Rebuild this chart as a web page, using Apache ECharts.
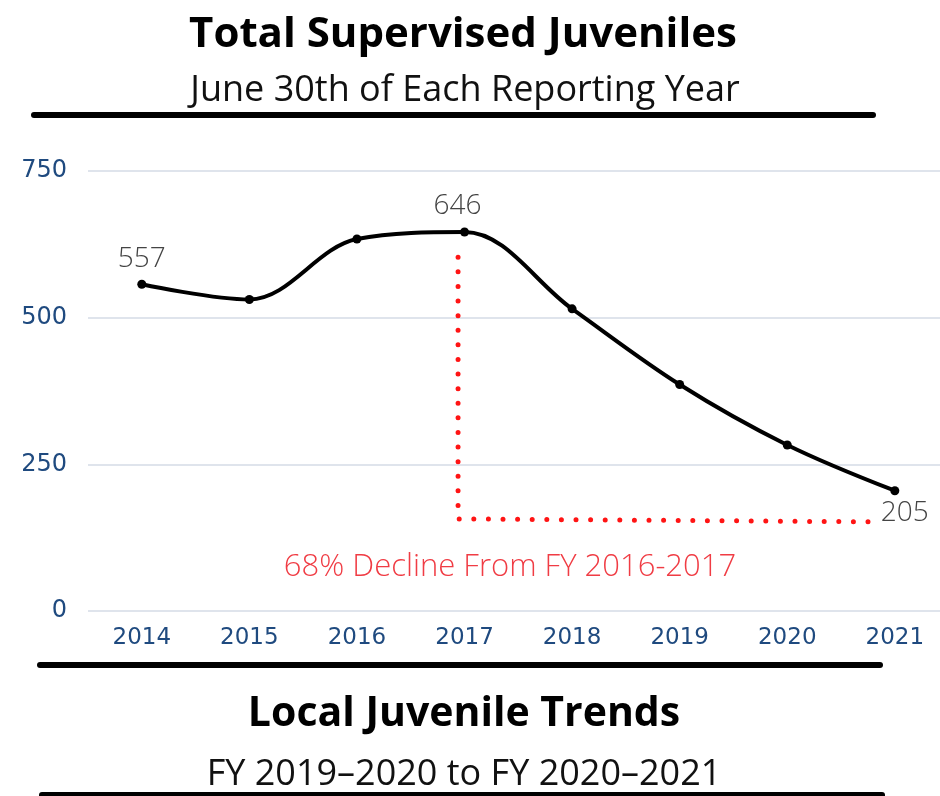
<!DOCTYPE html>
<html>
<head>
<meta charset="utf-8">
<script src="https://cdn.jsdelivr.net/npm/echarts@6/dist/echarts.min.js"></script>
<style>
html,body{margin:0;padding:0;background:#fff;}
#main{width:940px;height:796px;}
</style>
</head>
<body>
<div id="main"></div>
<script>
const years = [2014, 2015, 2016, 2017, 2018, 2019, 2020, 2021];
const juveniles = [557, 531, 634, 646, 515, 386, 283, 205];
const yTicks = [0, 250, 500, 750];
const declineX = [2016.94, 2016.94, 2020.79];
const declineY = [603, 157, 152];
const declineNote = '68% Decline From FY 2016-2017';

const chart = echarts.init(document.getElementById('main'));

const lastIdx = juveniles.length - 1;
const peakIdx = juveniles.indexOf(Math.max(...juveniles));
const lineData = juveniles.map((v, i) => {
  const item = { value: [years[i], v] };
  if (i === 0) item.label = { show: true, position: 'top', distance: 7 };
  else if (i === peakIdx) item.label = { show: true, position: 'top', distance: 7, offset: [-7, 0] };
  else if (i === lastIdx) item.label = { show: true, position: 'bottom', distance: 4, offset: [10, 0] };
  return item;
});

const option = {
  backgroundColor: '#fff',
  animation: false,
  title: [
    { text: 'Total Supervised Juveniles', left: 458, top: 9, textAlign: 'center',
      textStyle: { fontFamily: 'Open Sans', fontWeight: 'bold', fontSize: 42, color: '#000' } },
    { text: 'June 30th of Each Reporting Year', left: 460, top: 68, textAlign: 'center',
      textStyle: { fontFamily: 'Open Sans', fontWeight: 'normal', fontSize: 36, color: '#111' } },
    { text: declineNote, left: 505, top: 547, textAlign: 'center',
      textStyle: { fontFamily: 'Open Sans', fontWeight: 300, fontSize: 31, color: '#f03c44' } },
    { text: 'Local Juvenile Trends', left: 459, top: 689, textAlign: 'center',
      textStyle: { fontFamily: 'Open Sans', fontWeight: 'bold', fontSize: 41, color: '#000' } },
    { text: 'FY 2019\u20132020 to FY 2020\u20132021', left: 459, top: 752, textAlign: 'center',
      textStyle: { fontFamily: 'Open Sans', fontWeight: 'normal', fontSize: 36, color: '#111' } }
  ],
  graphic: [
    { type: 'line', shape: { x1: 34, y1: 115, x2: 873, y2: 115 }, style: { stroke: '#000', lineWidth: 6, lineCap: 'round' } },
    { type: 'line', shape: { x1: 40, y1: 665, x2: 880, y2: 665 }, style: { stroke: '#000', lineWidth: 6, lineCap: 'round' } },
    { type: 'line', shape: { x1: 42, y1: 795, x2: 882, y2: 795 }, style: { stroke: '#000', lineWidth: 6, lineCap: 'round' } }
  ],
  grid: { left: 88, top: 171, right: 0, height: 440, containLabel: false },
  xAxis: {
    type: 'value', min: 2013.5, max: 2021.42,
    axisLine: { show: false }, axisTick: { show: false }, splitLine: { show: false },
    axisLabel: { customValues: years, color: '#1f4a7f', fontFamily: 'DejaVu Sans', fontSize: 23, margin: 16,
      formatter: v => String(v) }
  },
  yAxis: {
    type: 'value', min: 0, max: 750, interval: 250,
    axisLine: { show: false }, axisTick: { show: false },
    axisLabel: { color: '#1f4a7f', fontFamily: 'DejaVu Sans', fontSize: 24, margin: 21,
      formatter: v => yTicks.includes(v) ? String(v) : '' },
    splitLine: { lineStyle: { color: '#dfe4ec', width: 2 } }
  },
  series: [
    {
      type: 'line', silent: true, symbol: 'none', z: 1,
      data: declineX.map((x, i) => [x, declineY[i]]),
      lineStyle: { color: '#ff1414', width: 5, type: [0, 14.6], cap: 'round' }
    },
    {
      type: 'line', data: lineData, smooth: 0.35, z: 3,
      symbol: 'circle', symbolSize: 9,
      itemStyle: { color: '#000' },
      lineStyle: { color: '#000', width: 4 },
      label: { show: false, color: '#444', fontFamily: 'Open Sans', fontSize: 28, fontWeight: 300 }
    }
  ]
};
chart.setOption(option);
</script>
</body>
</html>
